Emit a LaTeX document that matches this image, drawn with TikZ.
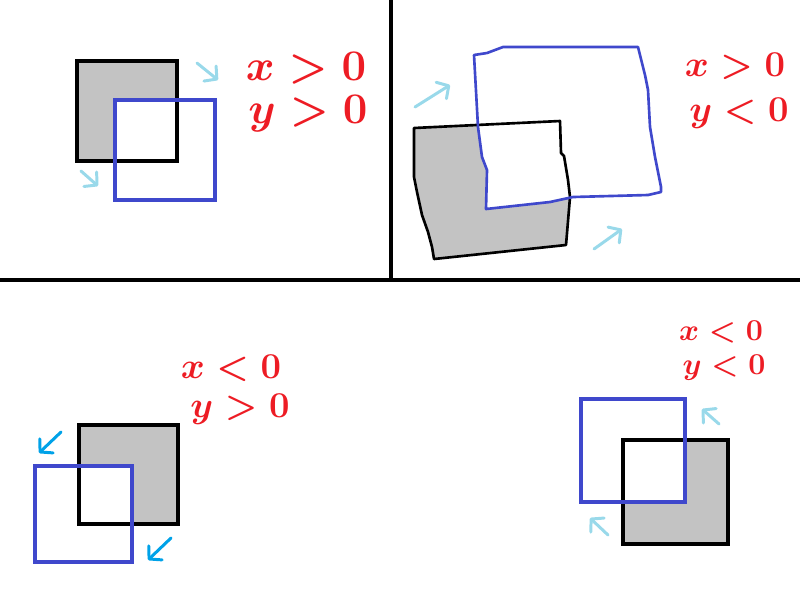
\documentclass[tikz,border=0pt]{standalone}
\usepackage{amsmath,amssymb}
\usepackage{xcolor}
\usepackage{tikz}
\usetikzlibrary{arrows.meta,positioning}
\definecolor{paintgray}{RGB}{195,195,195}
\definecolor{paintblue}{RGB}{63,72,204}
\definecolor{paintred}{RGB}{237,28,36}
\definecolor{paintsky}{RGB}{153,217,234}
\definecolor{paintcyan}{RGB}{0,162,232}

\begin{document}
\begin{tikzpicture}[
  x=0.02cm, y=-0.02cm,
  %% styles
  divider/.style={draw=black, line width=2.8pt},
  base/.style={draw=black, line width=2.8pt},
  moved/.style={draw=paintblue, line width=2.8pt},
  sketchbase/.style={draw=black, line width=1.5pt, line join=round},
  sketchmoved/.style={draw=paintblue, line width=1.5pt, line join=round},
  hint/.style={draw=#1, line width=1.7pt, line cap=round,
               -{Straight Barb[length=5pt,width=11pt,round]}},
  cond/.style={text=paintred, inner sep=0pt,
               font=\fontsize{#1}{#1}\selectfont\boldmath},
]
\useasboundingbox (0,0) rectangle (800,600);

%% ------ panel dividers ------------------------------------------------
\draw[divider] (0,280) -- (800,280);
\draw[divider, line width=2.3pt] (391,0) -- (391,280);

%% ------ panel 1 : x > 0, y > 0 ---------------------------------------
\fill[paintgray] (77,61) rectangle (177,161);
\fill[white] (115,100) rectangle (215,200);
\draw[base] (77,61) rectangle (177,161);
\draw[moved] (115,100) rectangle (215,200);
\draw[hint=paintsky] (197,63) -- (218,80);
\draw[hint=paintsky] (81,171) -- (98,186);
\node[cond=25] (cxA) at (306,68)  {$x>0$};
\node[cond=25] (cyA) at (308,114) {$y>0$};

%% ------ panel 2 : x > 0, y < 0 (free hand) ----------------------------
\fill[paintgray] (414,128) -- (560,121) -- (561,153) -- (564,156)
  -- (568,180) -- (570,197) -- (566,245) -- (434,259) -- (432,247)
  -- (428,232) -- (422,215) -- (417,192) -- (414,177) -- cycle;
\fill[white] (474,55) -- (487,53) -- (503,47) -- (638,47) -- (645,75)
  -- (648,90) -- (650,127) -- (655,157) -- (661,187) -- (661,192)
  -- (648,195) -- (573,197) -- (550,202) -- (486,209) -- (487,170)
  -- (482,157) -- (478,127) -- cycle;
\draw[sketchbase] (414,128) -- (560,121) -- (561,153) -- (564,156)
  -- (568,180) -- (570,197) -- (566,245) -- (434,259) -- (432,247)
  -- (428,232) -- (422,215) -- (417,192) -- (414,177) -- cycle;
\draw[sketchmoved] (474,55) -- (487,53) -- (503,47) -- (638,47) -- (645,75)
  -- (648,90) -- (650,127) -- (655,157) -- (661,187) -- (661,192)
  -- (648,195) -- (573,197) -- (550,202) -- (486,209) -- (487,170)
  -- (482,157) -- (478,127) -- cycle;
\draw[hint=paintsky] (415,107) -- (450,85);
\draw[hint=paintsky] (594,249) -- (622,229);
\node[cond=21] (cxB) at (735,66)  {$x>0$};
\node[cond=21] (cyB) at (739,113) {$y<0$};

%% ------ panel 3 : x < 0, y > 0 ---------------------------------------
\fill[paintgray] (79,425) rectangle (178,524);
\fill[white] (35,466) rectangle (132,562);
\draw[base] (79,425) rectangle (178,524);
\draw[moved] (35,466) rectangle (132,562);
\draw[hint=paintcyan] (61,432) -- (39,453);
\draw[hint=paintcyan] (171,538) -- (148,560);
\node[cond=22] (cxC) at (231,368) {$x<0$};
\node[cond=22] (cyC) at (240,409) {$y>0$};

%% ------ panel 4 : x < 0, y < 0 ---------------------------------------
\fill[paintgray] (623,440) rectangle (728,544);
\fill[white] (581,399) rectangle (685,502);
\draw[base] (623,440) rectangle (728,544);
\draw[moved] (581,399) rectangle (685,502);
\draw[hint=paintsky] (719,424) -- (702,409);
\draw[hint=paintsky] (608,535) -- (590,518);
\node[cond=19] (cxD) at (721,332) {$x<0$};
\node[cond=19] (cyD) at (724,368) {$y<0$};

\end{tikzpicture}
\end{document}
